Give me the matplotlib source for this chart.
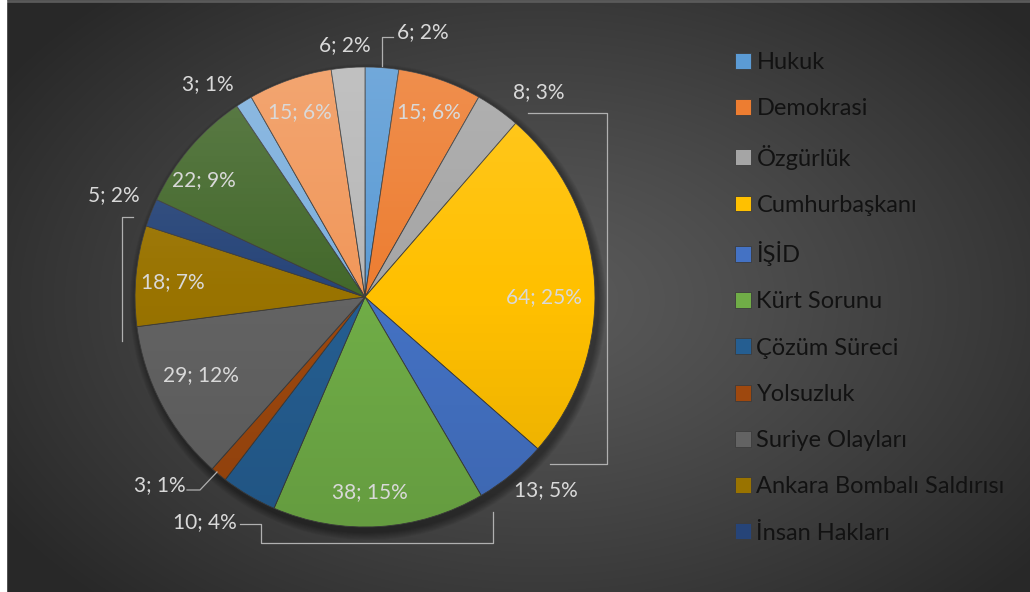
import matplotlib.pyplot as plt
import numpy as np
from matplotlib.patches import Circle

# slices clockwise from 12 o'clock
names = ['Hukuk', 'Demokrasi', 'Özgürlük', 'Cumhurbaşkanı', 'İŞİD', 'Kürt Sorunu',
         'Çözüm Süreci', 'Yolsuzluk', 'Suriye Olayları', 'Ankara Bombalı Saldırısı',
         'İnsan Hakları', 'Ekonomi', 'Basın', 'Eğitim', 'Dış Politika']
counts = [6, 15, 8, 64, 13, 38, 10, 3, 29, 18, 5, 22, 3, 15, 6]
percents = [2, 6, 3, 25, 5, 15, 4, 1, 12, 7, 2, 9, 1, 6, 2]
n_legend = 11  # the legend in the original is cut after İnsan Hakları

colors = ['#5B9BD5', '#ED7D31', '#A5A5A5', '#FFC000', '#4472C4', '#70AD47',
          '#255E91', '#9E480E', '#636363', '#997300', '#264478', '#43682B',
          '#7CAFDD', '#F1975A', '#B7B7B7']

# label placement (radius as fraction of pie radius, clockwise shift in degrees)
label_r = [1.18, 0.85, 1.17, 0.78, 1.15, 0.85, 1.2, 1.21, 0.79, 0.84, 1.18, 0.865, 1.15, 0.85, 1.10]
label_shift = [8, 0, 5, 4, -3.5, 2, 5, 8, 2.5, -1, 0.5, -4.5, -4.6, -0.3, -0.3]

W, H = 1030, 592
cx, cy, R = 365, H - 297, 230

plt.rcParams['font.family'] = ['Lato', 'DejaVu Sans']

fig = plt.figure(figsize=(W / 100, H / 100), dpi=100)
ax = fig.add_axes([0, 0, 1, 1])

# dark radial background
yy, xx = np.mgrid[0:H, 0:W]
d = np.sqrt(((xx - 540) / 640.0) ** 2 + ((yy - 300) / 420.0) ** 2)
d = np.clip(d, 0, 1)
c0, c1 = 0x5a / 255, 0x28 / 255
g = c0 + (c1 - c0) * d ** 1.2
bg = np.dstack([g, g, g])
ax.imshow(bg, extent=[0, W, 0, H], origin='upper', zorder=0, aspect='auto')
ax.plot([6, W], [H - 1, H - 1], color='#5a5a5a', lw=2, zorder=1)
ax.fill_between([0, 6], 0, H, color='white', zorder=1)

# soft shadow
for k in range(8):
    ax.add_patch(Circle((cx + 3, cy - 5), R + 8 - k, color='black', alpha=0.05, lw=0, zorder=1))

wedges, _ = ax.pie(counts, colors=colors, startangle=90, counterclock=False,
                   radius=R, center=(cx, cy), frame=True,
                   wedgeprops=dict(edgecolor='#3c3c3c', linewidth=0.6))
for w in wedges:
    w.set_zorder(2)

# vertical shading over the pie
sh = np.zeros((200, 1, 4))
t = np.linspace(0, 1, 200)
sh[:, 0, :3] = np.where(t < 0.5, 1.0, 0.0)[:, None]
sh[:, 0, 3] = np.where(t < 0.5, 0.14 * (1 - t / 0.5), 0.10 * (t - 0.5) / 0.5)
im = ax.imshow(sh, extent=[cx - R, cx + R, cy - R, cy + R], origin='upper',
               aspect='auto', zorder=3)
im.set_clip_path(Circle((cx, cy), R, transform=ax.transData))

for w, c, p, r, s in zip(wedges, counts, percents, label_r, label_shift):
    ang = np.deg2rad((w.theta1 + w.theta2) / 2 - s)
    ax.text(cx + r * R * np.cos(ang), cy + r * R * np.sin(ang), f'{c}; {p}%',
            ha='center', va='center', fontsize=15, color='#d9d9d9', zorder=5)

# leader lines
leaders = [
    [(393, 37), (382, 37), (382, 66)],
    [(528, 113), (607, 113), (607, 464), (550, 464)],
    [(240, 524), (261, 524), (261, 543), (493, 543), (493, 512)],
    [(187, 490), (200, 490), (217, 472)],
    [(133, 217), (122, 217), (122, 341)],
]
for pts in leaders:
    px = [p[0] for p in pts]
    py = [H - p[1] for p in pts]
    ax.plot(px, py, color='#b0b0b0', lw=0.9, zorder=4)

ax.legend(wedges[:n_legend], names[:n_legend], loc='upper left',
          bbox_to_anchor=(735 / W, 1 - 52 / H), frameon=False, fontsize=17,
          labelcolor='#121212', handlelength=0.66, handleheight=0.66,
          handletextpad=0.25, labelspacing=1.07, borderpad=0, borderaxespad=0)

ax.set_xlim(0, W)
ax.set_ylim(0, H)
ax.axis('off')

fig.savefig('out.png', dpi=100)
